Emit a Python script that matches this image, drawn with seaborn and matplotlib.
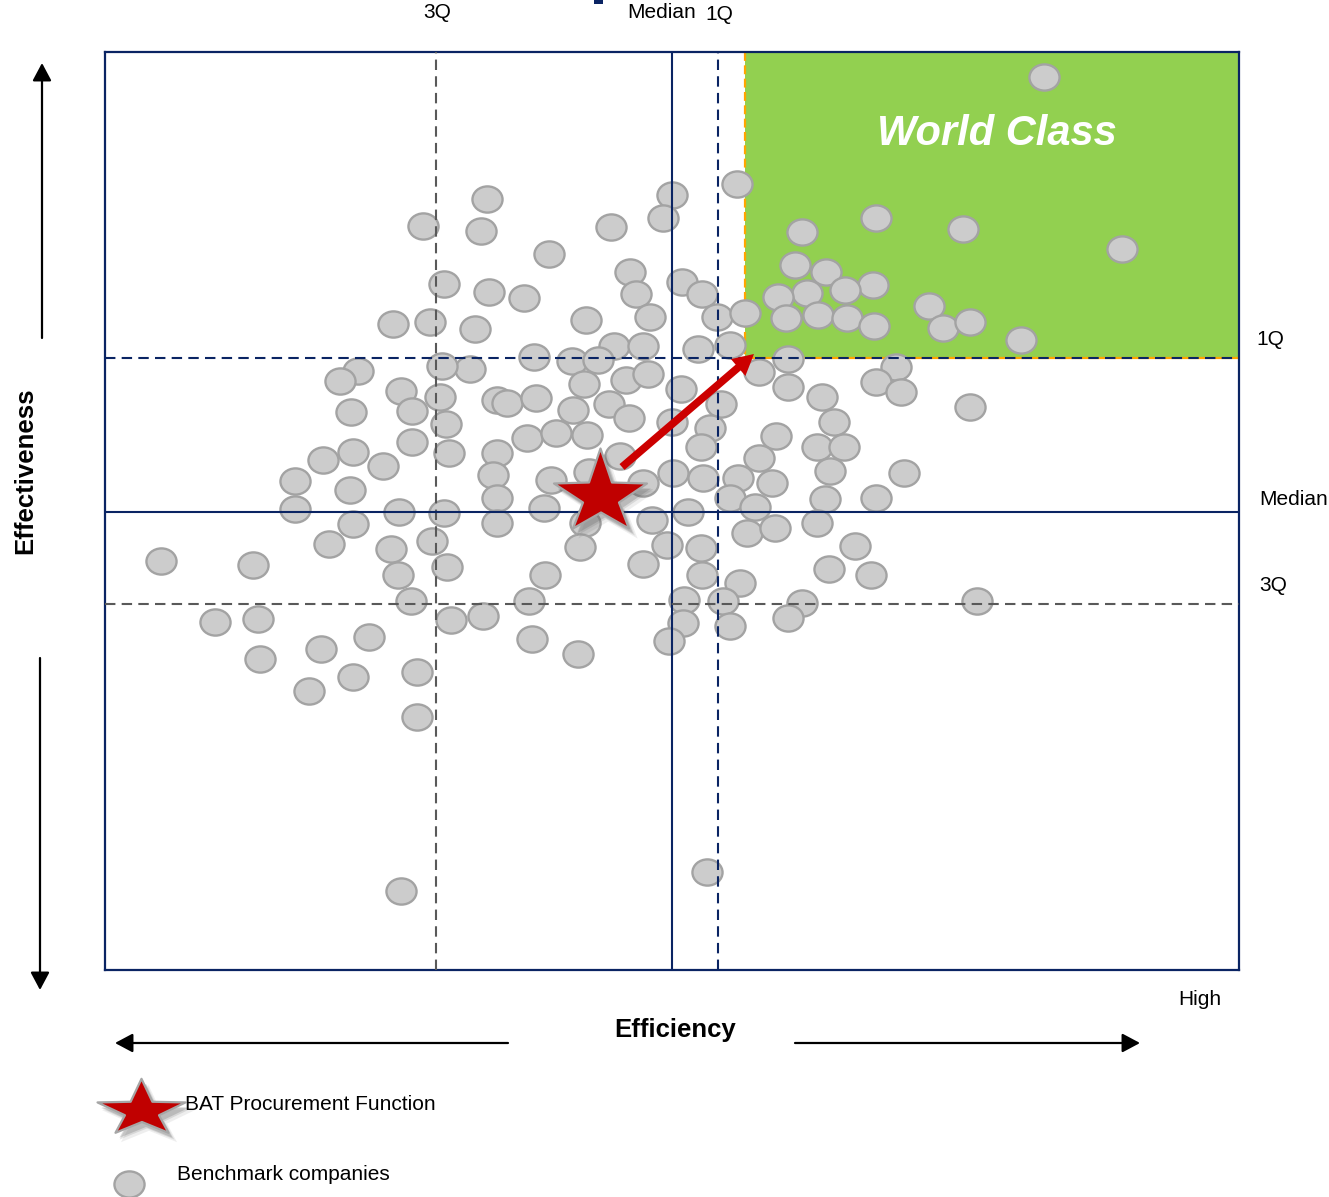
import numpy as np
import pandas as pd
import matplotlib
matplotlib.use("Agg")
import matplotlib.pyplot as plt
import seaborn as sns
from matplotlib.path import Path
from matplotlib.transforms import Affine2D
from matplotlib.patches import Rectangle, FancyArrowPatch

# ---------------- data (y axis runs top-down) ----------------
bench_efficiency = [
    1044, 737, 672, 663, 487, 423, 481, 611, 549, 630, 444, 489, 524, 636, 682, 702,
    650, 717, 745, 393, 430, 475, 586, 614, 643, 698, 730, 534, 572, 598, 470,
    876, 963, 802, 1122, 795, 826, 873, 807, 845, 778, 786, 818, 847, 874, 929, 943,
    970, 1021,
    584, 626, 648, 681, 759, 497, 507, 536, 573, 609, 629, 672, 721, 710, 527, 556,
    587, 701, 497, 620, 493, 551, 589, 643, 673, 703, 497, 544, 585, 652, 688, 580,
    497, 667, 701, 643, 545,
    788, 788, 896, 876, 901, 822, 970, 834, 776, 817, 844, 759, 830, 738, 772, 904,
    730, 755, 825, 876, 747, 775, 817, 855, 829, 871, 740, 723, 802, 788, 730, 977,
    702, 529, 483, 684, 683, 669, 532, 578,
    358, 340, 401, 351, 412, 353, 323, 383, 412, 295, 350, 295, 399, 353, 329, 391,
    161, 253, 398, 411, 215, 258, 260, 321, 369, 353, 309, 417, 417, 442, 440, 446,
    449, 444, 432, 447, 451,
    401, 707,
]
bench_effectiveness = [
    77, 184, 195, 218, 199, 226, 231, 227, 254, 272, 284, 292, 298, 294, 282, 294,
    317, 317, 313, 324, 322, 329, 320, 346, 346, 349, 345, 357, 361, 360, 369,
    218, 229, 232, 249, 265, 272, 285, 293, 290, 297, 318, 315, 318, 326, 306, 328,
    322, 340,
    384, 380, 374, 389, 372, 400, 403, 398, 410, 404, 418, 422, 404, 428, 438, 433,
    435, 447, 453, 456, 475, 480, 472, 483, 473, 478, 498, 508, 523, 520, 512, 547,
    523, 545, 548, 564, 575,
    359, 387, 367, 382, 392, 397, 407, 422, 436, 447, 447, 458, 471, 478, 483, 473,
    498, 507, 499, 498, 533, 528, 523, 546, 569, 575, 583, 601, 603, 618, 626, 601,
    575, 601, 616, 600, 623, 641, 639, 654,
    371, 381, 391, 412, 411, 452, 460, 466, 442, 481, 490, 509, 512, 524, 544, 549,
    561, 565, 575, 601, 622, 619, 659, 649, 637, 677, 691, 672, 717, 366, 397, 424,
    453, 513, 541, 567, 620,
    891, 872,
]
bat_efficiency = [599.5]
bat_effectiveness = [492]

efficiency_quartiles = {"3Q": 436, "Median": 672, "1Q": 718}
effectiveness_quartiles = {"1Q": 358, "Median": 512, "3Q": 604}
world_class_start = 745
x_limits = (105, 1239)
y_limits = (970, 52)
arrow_start = (622, 467)
arrow_end = (754, 354)

NAVY = "#0A2463"
GRAY_LINE = "#595959"
GREEN = "#92D050"
ORANGE = "#FFA500"
RED = "#C00000"

sns.set_style("white")
plt.rcParams["font.family"] = ["Liberation Sans", "DejaVu Sans"]
plt.rcParams["text.color"] = "black"

W, H = 1329, 1197
fig = plt.figure(figsize=(W / 100, H / 100), dpi=100)
ax = fig.add_axes([105 / W, 1 - 970 / H, 1134 / W, 918 / H])

# star outline shape (y up), outer tips and inner notches
_star_shape = np.array([
    (0, 44), (11.5, 10), (46.5, 9), (18.5, -10), (28.5, -36),
    (0.5, -20), (-27.5, -36), (-17.5, -10), (-46.5, 9), (-11.5, 10), (0, 44),
])


def star_path(yscale=1.0):
    v = _star_shape * np.array([1.0, yscale])
    codes = [Path.MOVETO] + [Path.LINETO] * 9 + [Path.CLOSEPOLY]
    return Path(v, codes)


ellipse = Affine2D().scale(1.0, 0.87).transform_path(Path.unit_circle())
PT_S = 470

# world class region
ax.add_patch(Rectangle((world_class_start, y_limits[1]), x_limits[1] - world_class_start,
                       effectiveness_quartiles["1Q"] - y_limits[1],
                       fc=GREEN, ec="none", zorder=1))
ax.plot([world_class_start, world_class_start], [y_limits[1], effectiveness_quartiles["1Q"]],
        color=ORANGE, lw=1.6, ls=(0, (4, 2)), zorder=2)
ax.plot([world_class_start, x_limits[1]], [effectiveness_quartiles["1Q"]] * 2,
        color=ORANGE, lw=1.6, zorder=2)

df = pd.DataFrame({"Efficiency": bench_efficiency, "Effectiveness": bench_effectiveness})
sns.scatterplot(data=df, x="Efficiency", y="Effectiveness", ax=ax, marker=ellipse, s=PT_S,
                color="#CCCCCC", edgecolor="#A3A3A3", linewidth=1.7, zorder=3,
                legend=False, clip_on=False)

# quartile lines
dash = (0, (5, 3))
ax.axvline(efficiency_quartiles["3Q"], color=GRAY_LINE, lw=1.5, ls=dash, zorder=4)
ax.axvline(efficiency_quartiles["Median"], color=NAVY, lw=1.5, zorder=4)
ax.axvline(efficiency_quartiles["1Q"], color=NAVY, lw=1.5, ls=dash, zorder=4)
ax.axhline(effectiveness_quartiles["1Q"], color=NAVY, lw=1.5, ls=dash, zorder=4)
ax.axhline(effectiveness_quartiles["Median"], color=NAVY, lw=1.5, zorder=4)
ax.axhline(effectiveness_quartiles["3Q"], color=GRAY_LINE, lw=1.5, ls=dash, zorder=4)

# improvement arrow
ax.add_patch(FancyArrowPatch(arrow_start, arrow_end,
                             arrowstyle="simple,head_length=1.5,head_width=1.6,tail_width=0.55",
                             mutation_scale=10, color="#CC0000", lw=0, zorder=6,
                             shrinkA=0, shrinkB=0))

# BAT star with soft shadow
main_star = star_path(1.0)
STAR_S = (93 * 0.72) ** 2
for off, a, grow in [(7, 0.10, 1.12), (5, 0.16, 1.06), (4, 0.24, 1.0)]:
    ax.scatter([bat_efficiency[0] + off], [bat_effectiveness[0] + off + 1], marker=main_star,
               s=STAR_S * grow, c="#606060", alpha=a, linewidths=0, zorder=6.5)
ax.scatter(bat_efficiency, bat_effectiveness, marker=main_star, s=STAR_S, c=RED,
           edgecolors="#A6A6A6", linewidths=1.6, zorder=7)

ax.text(997, 145, "World Class", color="white", fontsize=30, fontweight="bold",
        fontstyle="italic", ha="center", va="baseline", zorder=5)

ax.set_xlim(*x_limits)
ax.set_ylim(*y_limits)
ax.set_xticks([])
ax.set_yticks([])
ax.set_xlabel("")
ax.set_ylabel("")
for sp in ax.spines.values():
    sp.set_color(NAVY)
    sp.set_linewidth(1.6)
    sp.set_visible(True)

# ---------------- overlay for outer labels, arrows and legend ----------------
ov = fig.add_axes([0, 0, 1, 1], zorder=5)
ov.set_xlim(0, W)
ov.set_ylim(H, 0)
ov.axis("off")
ov.patch.set_alpha(0)

fs = 15
ov.text(437, 18, "3Q", fontsize=fs, ha="center", va="baseline")
ov.text(627, 18, "Median", fontsize=fs, ha="left", va="baseline")
ov.text(705, 19.5, "1Q", fontsize=fs, ha="left", va="baseline")
ov.add_patch(Rectangle((594, 0), 9, 4, fc=NAVY, ec="none"))
ov.text(1256, 345, "1Q", fontsize=fs, ha="left", va="baseline")
ov.text(1259, 505, "Median", fontsize=fs, ha="left", va="baseline")
ov.text(1259, 591, "3Q", fontsize=fs, ha="left", va="baseline")
ov.text(1178, 1005, "High", fontsize=fs, ha="left", va="baseline")
ov.text(675, 1037, "Efficiency", fontsize=18.5, fontweight="bold", ha="center", va="baseline")
ov.text(25, 471, "Effectiveness", fontsize=18.5, fontweight="bold", rotation=90,
        ha="center", va="center")

astyle = "-|>,head_length=0.9,head_width=0.48"
for (x0, y0), (x1, y1) in [((508, 1043), (115, 1043)), ((795, 1043), (1140, 1043)),
                           ((42, 338), (42, 63)), ((40, 658), (40, 990))]:
    ov.add_patch(FancyArrowPatch((x0, y0), (x1, y1), arrowstyle=astyle, mutation_scale=12,
                                 color="black", lw=1.6, shrinkA=0, shrinkB=0))

# legend
leg_star = star_path(0.713)
LEG_S = (88 * 0.72) ** 2
for off, a, grow in [(7, 0.10, 1.12), (5, 0.16, 1.06), (4, 0.24, 1.0)]:
    ov.scatter([141 + off], [1108 + off + 1], marker=leg_star, s=LEG_S * grow, c="#606060",
               alpha=a, linewidths=0)
ov.scatter([141], [1108], marker=leg_star, s=LEG_S, c=RED, edgecolors="#A6A6A6",
           linewidths=1.6)
ov.text(185, 1110, "BAT Procurement Function", fontsize=fs, ha="left", va="baseline")
ov.scatter([129], [1184], marker=ellipse, s=PT_S, c="#CCCCCC", edgecolors="#A3A3A3",
           linewidths=1.7)
ov.text(177, 1180, "Benchmark companies", fontsize=fs, ha="left", va="baseline")

fig.savefig("out.png", dpi=100)
